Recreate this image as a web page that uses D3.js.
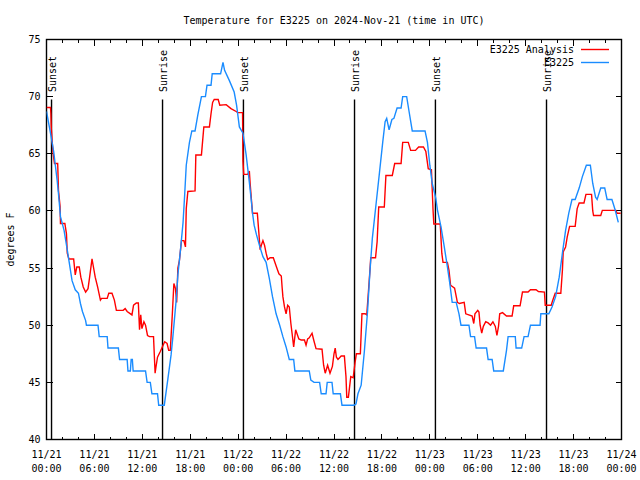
<!DOCTYPE html>
<html><head><meta charset="utf-8">
<script src="https://cdn.jsdelivr.net/npm/d3@7"></script>
<style>
body{margin:0;background:#fff}
svg{display:block;background:#fff}
text{font-family:"DejaVu Sans Mono","Liberation Mono",monospace;font-size:10px;fill:#000}
</style>
</head><body>
<svg id="c" width="640" height="480"></svg>
<script>
// ---------------- data ----------------
const titleText = "Temperature for E3225 on 2024-Nov-21 (time in UTC)";
const yAxisLabel = "degrees F";
const seriesNames = ["E3225 Analysis", "E3225"];
const seriesColors = ["#ff0000", "#1a8cff"];

// hours since 11/21 00:00 UTC, temperature (F)
const analysisSeries = [
[0,69.05],[0.5,69.05],[0.55,68.5],[0.6,67.2],[0.7,66.2],[0.83,65.0],[1.0,64.15],[1.4,64.15],[1.5,61.8],[1.7,60.4],
[1.75,58.9],[2.3,58.9],[2.5,58.0],[2.6,56.3],[2.8,55.8],[3.4,55.8],[3.6,54.4],[3.8,55.1],[4.1,55.1],[4.3,54.2],
[4.6,53.35],[4.9,52.9],[5.2,53.2],[5.4,54.2],[5.7,55.8],[5.8,55.4],[6.1,54.2],[6.4,53.35],[6.75,52.2],[6.9,52.35],
[7.6,52.35],[7.8,52.8],[8.2,52.8],[8.5,52.2],[8.75,51.3],[9.6,51.3],[9.85,51.45],[10.1,51.2],[10.7,50.9],[10.9,51.75],
[11.25,51.95],[11.5,51.95],[11.65,49.6],[11.8,50.9],[11.95,49.7],[12.2,50.3],[12.4,50.0],[12.65,49.1],[12.9,49.0],[13.4,49.0],
[13.6,45.8],[13.7,46.3],[13.9,47.2],[14.25,47.7],[14.5,48.1],[14.8,48.55],[15.1,48.4],[15.3,47.8],[15.5,47.8],[15.75,50.9],
[15.95,53.65],[16.15,53.2],[16.3,52.0],[16.45,55.0],[16.65,55.7],[16.9,57.4],[17.2,57.4],[17.4,56.85],[17.5,60.2],[17.7,61.7],
[18.6,61.75],[18.7,64.9],[19.4,64.9],[19.7,67.35],[20.4,67.35],[20.6,68.5],[20.8,69.5],[21.0,69.75],[21.5,69.75],[21.7,69.25],
[22.5,69.3],[23.1,68.95],[23.75,68.7],[23.95,68.6],[24.55,68.6],[24.6,64.4],[24.7,63.2],[25.2,63.2],[25.4,63.5],[25.5,62.4],
[25.7,60.65],[25.8,59.8],[26.4,59.8],[26.6,58.0],[26.75,56.6],[26.9,57.0],[27.1,57.4],[27.3,57.0],[27.5,56.3],[27.7,55.75],
[28.0,55.9],[28.4,55.9],[28.8,55.1],[29.1,54.5],[29.4,54.3],[29.5,53.35],[29.6,52.5],[29.8,51.6],[30.0,51.0],[30.2,51.75],
[30.4,51.6],[30.6,50.15],[30.75,49.3],[30.95,48.1],[31.2,49.6],[31.35,49.3],[31.6,48.8],[31.9,48.7],[32.3,48.7],[32.5,48.25],
[32.7,48.8],[32.9,48.9],[33.25,49.3],[33.5,48.6],[33.75,47.95],[34.5,47.9],[34.7,46.5],[34.9,45.8],[35.2,46.5],[35.5,45.8],
[35.8,46.4],[36.0,47.5],[36.15,48.0],[36.3,47.2],[36.5,47.0],[36.9,47.3],[37.3,47.3],[37.5,45.5],[37.6,43.7],[37.8,43.7],
[38.1,45.5],[38.4,45.4],[38.65,46.8],[38.8,47.5],[39.3,47.5],[39.5,51.0],[39.9,51.0],[40.1,50.9],[40.4,53.8],[40.5,54.8],
[40.6,55.9],[41.2,55.9],[41.4,57.3],[41.6,60.35],[42.3,60.35],[42.5,63.1],[43.3,63.1],[43.6,64.15],[44.4,64.15],[44.6,66.0],
[45.3,66.0],[45.6,65.3],[46.2,65.3],[46.6,65.6],[47.2,65.6],[47.5,65.2],[47.8,63.7],[48.2,63.6],[48.4,60.1],[48.5,58.85],
[49.3,58.85],[49.5,56.3],[49.65,55.5],[50.2,55.5],[50.4,54.8],[50.6,53.5],[51.1,53.25],[51.45,52.0],[51.7,51.9],[52.3,52.0],
[52.5,51.0],[53.3,50.8],[53.5,50.15],[53.65,51.0],[54.0,51.3],[54.15,51.15],[54.3,50.0],[54.5,49.3],[54.7,49.9],[55.0,50.3],
[55.3,50.2],[55.6,50.0],[55.9,50.3],[56.2,49.9],[56.4,49.1],[56.6,49.9],[56.75,51.0],[57.1,51.1],[57.6,50.8],[58.3,50.8],
[58.5,51.7],[59.3,51.7],[59.6,52.9],[60.3,52.9],[60.6,53.1],[61.3,53.1],[61.6,52.95],[62.35,52.9],[62.45,51.75],[63.2,51.75],
[63.35,52.1],[63.7,52.8],[64.4,52.8],[64.6,54.8],[64.7,56.4],[65.0,56.85],[65.2,57.7],[65.5,58.65],[66.2,58.65],[66.45,60.2],
[66.7,60.7],[67.3,60.7],[67.55,61.45],[68.25,61.45],[68.4,60.0],[68.5,59.6],[69.4,59.6],[69.6,60.05],[71.3,60.05],[71.45,59.8],
[71.9,59.8]
];

const observedSeries = [
[0,68.7],[0.5,66.8],[0.9,65.2],[1.33,62.7],[1.5,61.5],[1.75,59.5],[2.2,58.3],[2.6,56.6],[2.8,55.7],[3.2,53.9],
[3.6,53.1],[4.0,52.8],[4.25,51.9],[4.5,51.2],[4.9,50.4],[5.0,50],[6.45,50],[6.6,49],[7.6,49],[7.7,48],
[9.0,48],[9.15,47],[10.1,47],[10.2,46],[10.5,46],[10.6,47],[10.75,47],[10.85,46],[12.4,46],[12.6,45],
[13.0,45],[13.2,44],[13.9,44],[14.05,43],[14.75,43],[15.2,45.3],[15.6,47.4],[15.8,48.8],[16.25,52.3],[16.45,54.4],
[16.75,56.4],[17.1,59.0],[17.3,61.4],[17.5,64.0],[17.9,66.0],[18.2,67],[18.6,67],[18.95,68.4],[19.4,70],[19.9,70],
[20.1,71],[20.6,71],[20.75,72],[21.8,72],[22.1,73],[22.3,72.3],[22.9,71.4],[23.5,70.4],[23.8,69.25],[24.15,67.35],
[24.6,66.8],[25.0,64.9],[25.4,62.5],[25.6,61.2],[25.8,59.8],[26.0,58.75],[26.3,57.9],[26.7,56.9],[27.1,56],[27.5,55.5],
[27.9,54.1],[28.3,52.5],[28.75,51],[29.2,50],[29.6,49],[30.0,48.1],[30.4,47],[30.95,47],[31.1,46],[32.9,46],
[33.1,45.2],[33.5,45],[34.2,45],[34.4,44],[35.0,44],[35.15,45],[35.75,45],[35.9,44],[36.8,44],[37.0,43],
[38.5,43],[38.75,43.1],[39.0,44],[39.4,44.75],[39.8,47.7],[40.2,51.2],[40.5,54.7],[40.8,57.6],[41.25,60.5],[41.7,63.4],
[42.1,66],[42.4,67.8],[42.6,68.1],[42.9,67.1],[43.25,68],[43.5,68.1],[43.9,69],[44.4,69],[44.6,70],[45.1,70],
[45.4,68.7],[45.8,67],[47.4,67],[47.7,66],[48.0,64],[48.3,62.4],[48.75,61.1],[48.95,60.1],[49.4,58.6],[49.8,56.9],
[50.2,55.1],[50.5,53.65],[50.8,52],[51.3,52],[51.65,51],[51.9,50],[52.9,50],[53.1,49],[53.6,49],[53.8,48],
[55.1,48],[55.3,47],[55.8,47],[56.0,46],[57.2,46],[57.6,47.8],[57.8,49],[58.7,49],[58.8,48],[59.5,48],
[59.8,49],[60.3,49],[60.6,50],[61.8,50],[61.9,51],[62.9,51],[63.3,51.6],[63.75,52.5],[64.2,54.2],[64.6,56.3],
[65.0,58.3],[65.4,59.8],[65.8,61],[66.2,61],[66.7,62],[67.1,63],[67.6,64],[68.1,64],[68.4,62.4],[68.75,61.2],
[68.95,61],[69.4,62],[69.9,62],[70.2,61],[70.8,61],[71.2,60.1],[71.6,59]
];

const xTickHours = [0,6,12,18,24,30,36,42,48,54,60,66,72];
const xTickDates = ["11/21","11/21","11/21","11/21","11/22","11/22","11/22","11/22","11/23","11/23","11/23","11/23","11/24"];
const xTickTimes = ["00:00","06:00","12:00","18:00","00:00","06:00","12:00","18:00","00:00","06:00","12:00","18:00","00:00"];
const yTicks = [40,45,50,55,60,65,70,75];
const sunsetHours = [0.63, 24.66, 48.7];
const sunriseHours = [14.53, 38.57, 62.61];

// ---------------- drawing ----------------
const plot = {l:46.5, r:621.5, t:39.5, b:439.5};
const x = d3.scaleLinear().domain([0,72]).range([plot.l, plot.r]);
const y = d3.scaleLinear().domain([40,75]).range([plot.b, plot.t]);
const svg = d3.select("#c");

svg.append("defs").append("clipPath").attr("id","clip")
  .append("rect").attr("x",plot.l).attr("y",plot.t)
  .attr("width",plot.r-plot.l).attr("height",plot.b-plot.t);

// title
svg.append("text").attr("x",(plot.l+plot.r)/2).attr("y",24)
  .attr("text-anchor","middle").text(titleText);

// y label
svg.append("text").attr("transform","translate(14,"+((plot.t+plot.b)/2)+") rotate(-90)")
  .attr("text-anchor","middle").text(yAxisLabel);

// axes / ticks
const minorHours = d3.range(0,73,2).filter(h => h % 6 !== 0);
function styleAxis(g){ g.select(".domain").remove(); g.selectAll("line").attr("stroke","#000").attr("shape-rendering","crispEdges"); }

svg.append("g").attr("transform","translate(0,"+plot.b+")")
  .call(d3.axisBottom(x).tickValues(minorHours).tickSize(-3).tickFormat("").offset(0)).call(styleAxis);
svg.append("g").attr("transform","translate(0,"+plot.t+")")
  .call(d3.axisTop(x).tickValues(minorHours).tickSize(-3).tickFormat("").offset(0)).call(styleAxis);
svg.append("g").attr("transform","translate(0,"+plot.t+")")
  .call(d3.axisTop(x).tickValues(xTickHours).tickSize(-6).tickFormat("").offset(0)).call(styleAxis);
const bottomMajor = svg.append("g").attr("transform","translate(0,"+plot.b+")")
  .call(d3.axisBottom(x).tickValues(xTickHours).tickSize(-6).tickFormat("").offset(0)).call(styleAxis);
bottomMajor.selectAll(".tick").each(function(d,i){
  const t = d3.select(this).append("text").attr("text-anchor","middle").attr("fill","#000");
  t.append("tspan").attr("x",0).attr("y",18).text(xTickDates[i]);
  t.append("tspan").attr("x",0).attr("y",32).text(xTickTimes[i]);
});

svg.append("g").attr("transform","translate("+plot.l+",0)")
  .call(d3.axisLeft(y).tickValues(yTicks).tickSize(-6).tickPadding(6).offset(0))
  .call(styleAxis)
  .call(g => g.selectAll("text").attr("fill","#000").attr("dy","0.35em")
     .style("font-family","'DejaVu Sans Mono',monospace").style("font-size","10px"));
svg.append("g").attr("transform","translate("+plot.r+",0)")
  .call(d3.axisRight(y).tickValues(yTicks).tickSize(-6).tickFormat("").offset(0)).call(styleAxis);

// frame
svg.append("rect").attr("x",plot.l).attr("y",plot.t)
  .attr("width",plot.r-plot.l).attr("height",plot.b-plot.t)
  .attr("fill","none").attr("stroke","#000").attr("stroke-width",1.4);

// sunrise / sunset markers
const events = sunsetHours.map(h => ({h, label:"Sunset"}))
  .concat(sunriseHours.map(h => ({h, label:"Sunrise"})));
const lineTop = plot.b - 0.85*(plot.b-plot.t);
svg.append("g").selectAll("line").data(events).join("line")
  .attr("x1",d=>x(d.h)).attr("x2",d=>x(d.h))
  .attr("y1",lineTop).attr("y2",plot.b)
  .attr("stroke","#000").attr("stroke-width",1.4);
svg.append("g").selectAll("text").data(events).join("text")
  .attr("transform",d=>"translate("+(x(d.h)+4.5)+",92) rotate(-90)")
  .attr("text-anchor","start").text(d=>d.label);

// data lines
const line = d3.line().x(d=>x(d[0])).y(d=>y(d[1]));
const dataG = svg.append("g").attr("clip-path","url(#clip)");
dataG.append("path").datum(analysisSeries).attr("d",line)
  .attr("fill","none").attr("stroke",seriesColors[0]).attr("stroke-width",1.4);
dataG.append("path").datum(observedSeries).attr("d",line)
  .attr("fill","none").attr("stroke",seriesColors[1]).attr("stroke-width",1.4);

// legend
const legendRows = [{name:seriesNames[0], color:seriesColors[0], ty:52.5, ly:49.5},
                    {name:seriesNames[1], color:seriesColors[1], ty:66, ly:62.5}];
const lg = svg.append("g");
legendRows.forEach(r => {
  lg.append("text").attr("x",574).attr("y",r.ty).attr("text-anchor","end").text(r.name);
  lg.append("line").attr("x1",581).attr("x2",609).attr("y1",r.ly).attr("y2",r.ly)
    .attr("stroke",r.color).attr("stroke-width",1.4);
});
</script>
</body></html>
